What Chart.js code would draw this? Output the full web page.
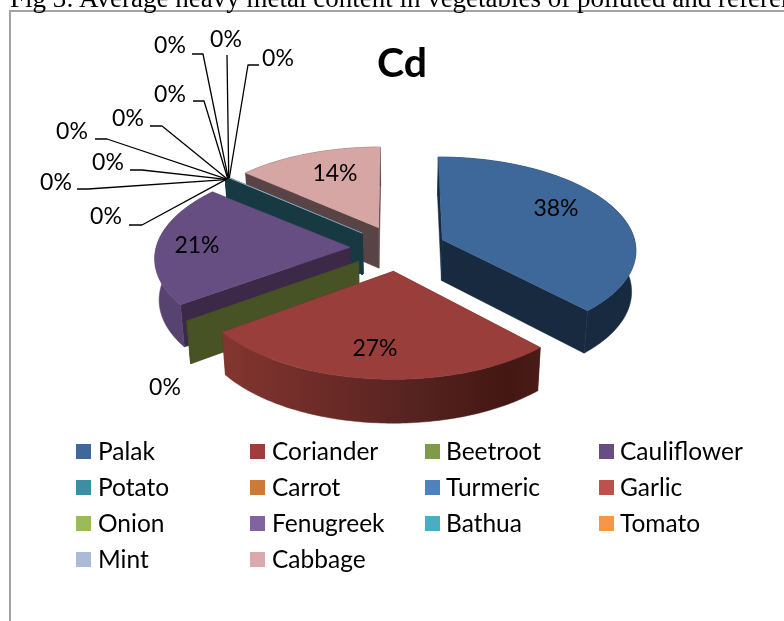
<!DOCTYPE html>
<html><head><meta charset="utf-8">
<script src="https://cdn.jsdelivr.net/npm/chart.js@4"></script>
<style>
html,body{margin:0;padding:0;background:#fff;width:784px;height:621px;overflow:hidden}
#wrap{position:absolute;left:0;top:0;width:784px;height:621px;overflow:hidden}
#frame{position:absolute;left:9px;top:10px;width:900px;height:800px;border-left:2px solid #a3a3a3;border-top:2px solid #a3a3a3}
#cap{position:absolute;left:10px;top:-17px;white-space:nowrap;font:27px "Liberation Serif",serif;color:#000;background:transparent}
canvas{position:absolute;left:0;top:0}
</style></head><body>
<div id="wrap">
<div id="frame"></div>
<canvas id="c" width="804" height="621"></canvas>
<div id="cap">Fig 3: Average heavy metal content in vegetables of polluted and referen</div>
</div>
<script>
const chartTitle = 'Cd';
const categories = ['Palak','Coriander','Beetroot','Cauliflower','Potato','Carrot','Turmeric','Garlic','Onion','Fenugreek','Bathua','Tomato','Mint','Cabbage'];
const cdValues = [38,27,0.05,21,0.05,0.05,0.05,0.05,0.05,0.05,0.05,0.05,0.05,13.55];
const legendColors = ['#3f6899','#9c3f3c','#7f9a48','#664e85','#3b8fa5','#cd7a36','#4f81bd','#c0504d','#9bbb59','#8064a2','#4bacc6','#f79646','#aabad7','#d9aaa9'];
const topColors = ['#3e6899','#9a3e3b','#475225','#664e83','#173a42','#173a42','#173a42','#173a42','#173a42','#173a42','#173a42','#173a42','#aabad7','#d6a6a5'];
const faceColors = ['#172a40','#5a2622','#475225','#3b2947','#173a42','#173a42','#173a42','#173a42','#173a42','#173a42','#173a42','#173a42','#173a42','#584444'];
const rimColors = ['#172a40',null,'#475225','#574370','#173a42','#173a42','#173a42','#173a42','#173a42','#173a42','#173a42','#173a42','#173a42','#584444'];
const drawOrder = [13,11,10,9,8,7,6,5,4,12,0,3,2,1];
const valueLabelSpots = [[556,209],[375,349],[165,388],[197,246]];
const valueLabelOwners = [0,1,2,3];
const cabbageSpot = [335,174];
const leaders = [
 {i:4, text:[106,217], path:[[129,225],[142,225]]},
 {i:5, text:[56,183], path:[[77,189],[88,189]]},
 {i:6, text:[108,163], path:[[130,170],[142,170]]},
 {i:7, text:[72,132], path:[[95,139],[107,139]]},
 {i:8, text:[128,119], path:[[150,126],[162,126]]},
 {i:9, text:[170,95], path:[[193,101],[204,101]]},
 {i:10,text:[170,46], path:[[192,54],[203,54]]},
 {i:11,text:[226,40], path:[[227,55]]},
 {i:12,text:[278,59], path:[[259,65],[248,65]]}
];
const legendCols = [[76,98],[250,272],[425,446],[599,620]];
const legendRows = [451.5,487.5,523.5,559.5];

const CX=398, CY=248, R=194, TILT=0.476, PERSP=0.099, DEPTH=41;
const fontFam = 'Lato, "Open Sans", sans-serif';
function pt(X,Y,z){
  const f=1/(1-PERSP*Y/R);
  const k=f*(1-0.018*z/DEPTH);
  return [CX+X*k, CY+Y*TILT*f+z*(1+(f-1)*0.5)];
}
function poly(ctx,pts,fill){
  ctx.beginPath();
  pts.forEach((p,i)=>i?ctx.lineTo(p[0],p[1]):ctx.moveTo(p[0],p[1]));
  ctx.closePath();
  ctx.fillStyle=fill;ctx.fill();
  ctx.strokeStyle=fill;ctx.lineWidth=0.5;ctx.stroke();
}
function rimGeom(el){
  const s=el.startAngle,e=el.endAngle,m=(s+e)/2,off=el.options.offset;
  const ox=Math.cos(m)*off, oy=Math.sin(m)*off;
  const n=Math.max(1,Math.ceil((e-s)/(Math.PI/180)));
  const rim=[];
  for(let k=0;k<=n;k++){const a=s+(e-s)*k/n;rim.push([ox+R*Math.cos(a),oy+R*Math.sin(a)]);}
  return {ox,oy,rim};
}
const pie3d={
  id:'pie3d',
  beforeDatasetsDraw(chart){
    const ctx=chart.ctx, meta=chart.getDatasetMeta(0);
    ctx.save();
    drawOrder.forEach(i=>{
      const {ox,oy,rim}=rimGeom(meta.data[i]);
      const a0=pt(ox,oy,0), a1=pt(ox,oy,DEPTH);
      const first=rim[0], last=rim[rim.length-1];
      poly(ctx,[a0,pt(first[0],first[1],0),pt(first[0],first[1],DEPTH),a1],faceColors[i]);
      poly(ctx,[a0,pt(last[0],last[1],0),pt(last[0],last[1],DEPTH),a1],faceColors[i]);
      let rimFill=rimColors[i];
      if(!rimFill){
        const g=ctx.createLinearGradient(220,0,540,0);
        g.addColorStop(0,'#83362f');g.addColorStop(0.3,'#6e2c28');g.addColorStop(0.6,'#562320');g.addColorStop(0.9,'#431713');g.addColorStop(1,'#4a1c18');
        rimFill=g;
      }
      const strip=rim.map(p=>pt(p[0],p[1],0)).concat(rim.slice().reverse().map(p=>pt(p[0],p[1],DEPTH)));
      poly(ctx,strip,rimFill);
      poly(ctx,[a0].concat(rim.map(p=>pt(p[0],p[1],0))),topColors[i]);
    });
    ctx.restore();
    return false;
  },
  afterDraw(chart){
    const ctx=chart.ctx, meta=chart.getDatasetMeta(0), data=chart.data.datasets[0].data;
    const total=data.reduce((a,b)=>a+b,0);
    const pct=i=>Math.round(data[i]/total*100)+'%';
    ctx.save();
    ctx.strokeStyle='#000';ctx.lineWidth=1.3;ctx.lineJoin='round';
    leaders.forEach(l=>{
      const {rim}=rimGeom(meta.data[l.i]);
      const o=pt(rim[0][0],rim[0][1],0);
      ctx.beginPath();
      l.path.forEach((p,k)=>k?ctx.lineTo(p[0],p[1]):ctx.moveTo(p[0],p[1]));
      ctx.lineTo(o[0],o[1]);ctx.stroke();
    });
    ctx.fillStyle='#000';ctx.textAlign='center';ctx.textBaseline='middle';
    ctx.font='23px '+fontFam;
    leaders.forEach(l=>ctx.fillText(pct(l.i),l.text[0],l.text[1]));
    valueLabelOwners.forEach((i,k)=>ctx.fillText(pct(i),valueLabelSpots[k][0],valueLabelSpots[k][1]));
    ctx.fillText(pct(13),cabbageSpot[0],cabbageSpot[1]);
    ctx.textAlign='left';
    ctx.font='24.5px '+fontFam;
    categories.forEach((name,i)=>{
      const col=legendCols[i%4], y=legendRows[Math.floor(i/4)];
      ctx.fillStyle=legendColors[i];
      ctx.fillRect(col[0],y-7.5,15,15);
      ctx.fillStyle='#000';
      ctx.fillText(name,col[1],y+0.8);
    });
    ctx.restore();
  }
};
new Chart(document.getElementById('c'),{
  type:'pie',
  plugins:[pie3d],
  data:{labels:categories,datasets:[{data:cdValues,backgroundColor:legendColors,offset:48,borderWidth:0}]},
  options:{
    responsive:false,animation:false,
    layout:{padding:0},
    plugins:{
      legend:{display:false},tooltip:{enabled:false},
      title:{display:true,text:chartTitle,color:'#000',font:{family:fontFam,size:41,weight:'bold'},padding:{top:39,bottom:0}}
    }
  }
});
</script>
</body></html>
